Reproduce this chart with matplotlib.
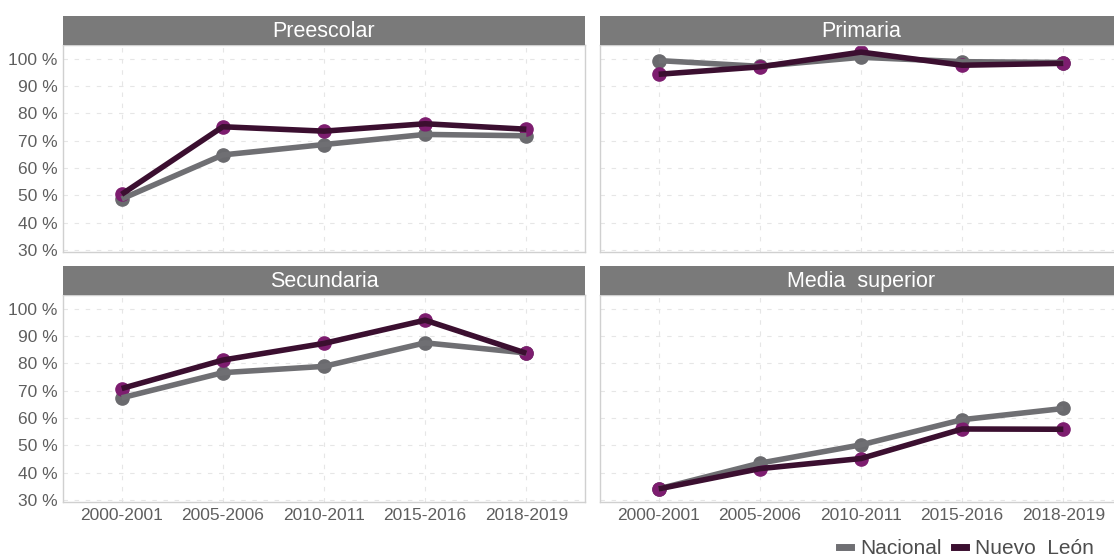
import matplotlib
matplotlib.use("Agg")
import matplotlib.pyplot as plt
from matplotlib.lines import Line2D
from matplotlib.ticker import FuncFormatter

plt.rcParams.update({"font.family": ["Liberation Sans", "DejaVu Sans"]})

# ---------------- data ----------------
ciclos = ["2000-2001", "2005-2006", "2010-2011", "2015-2016", "2018-2019"]
niveles = ["Preescolar", "Primaria", "Secundaria", "Media  superior"]

nacional = {
    "Preescolar":      [48.7, 64.8, 68.6, 72.3, 71.8],
    "Primaria":        [99.3, 97.2, 100.5, 98.9, 98.6],
    "Secundaria":      [67.4, 76.6, 78.9, 87.5, 83.8],
    "Media  superior": [34.1, 43.5, 50.2, 59.4, 63.5],
}
nuevo_leon = {
    "Preescolar":      [50.4, 75.1, 73.5, 76.2, 74.2],
    "Primaria":        [94.3, 97.0, 102.4, 97.6, 98.3],
    "Secundaria":      [70.8, 81.2, 87.3, 95.8, 83.7],
    "Media  superior": [34.1, 41.5, 45.2, 56.0, 55.9],
}
yticks = [30, 40, 50, 60, 70, 80, 90, 100]

# ---------------- layout (pixels) ----------------
W, H = 1114, 558
fig = plt.figure(figsize=(W / 100, H / 100), dpi=100)

pw = 522           # panel width
lefts = [63, 600]
tops = [45, 295]
ph = 207           # panel height
sh = 29            # strip height

c_nac_line, c_nac_pt = "#6f6f73", "#6a6a6e"
c_nl_line, c_nl_pt = "#3b0f30", "#7d1d6f"
tick_col = "#5e5e5e"

x = list(range(len(ciclos)))

for i, nivel in enumerate(niveles):
    r, c = divmod(i, 2)
    l, t = lefts[c], tops[r]
    ax = fig.add_axes([l / W, 1 - (t + ph) / H, pw / W, ph / H])
    ax.set_xlim(-0.58, 4.58)
    ax.set_ylim(29.3, 105.0)
    ax.set_yticks(yticks)
    ax.set_xticks(x)
    ax.yaxis.set_major_formatter(FuncFormatter(lambda v, p: f"{v:.0f} %"))
    ax.grid(True, color="#e6e6e6", ls=(0, (4, 6)), lw=0.8)
    ax.set_axisbelow(True)
    ax.tick_params(length=0, colors=tick_col, labelsize=12.5, pad=4)
    if c == 1:
        ax.set_yticklabels([])
    if r == 0:
        ax.set_xticklabels([])
    else:
        ax.set_xticklabels(ciclos, fontsize=12.5)
    for s in ax.spines.values():
        s.set_color("#d0d0d0")
        s.set_linewidth(1.0)

    ax.plot(x, nacional[nivel], "o", color=c_nac_pt, ms=9.5, zorder=2)
    ax.plot(x, nuevo_leon[nivel], "o", color=c_nl_pt, ms=9.5, zorder=2)
    ax.plot(x, nacional[nivel], "-", color=c_nac_line, lw=4, zorder=3,
            solid_capstyle="butt")
    ax.plot(x, nuevo_leon[nivel], "-", color=c_nl_line, lw=4, zorder=4,
            solid_capstyle="butt")

    # strip
    sa = fig.add_axes([l / W, 1 - t / H, pw / W, sh / H])
    sa.set_facecolor("#7a7a7a")
    sa.set_xticks([]); sa.set_yticks([])
    for s in sa.spines.values():
        s.set_visible(False)
    sa.text(0.5, 0.48, nivel, color="white", fontsize=15.5, ha="center", va="center",
            transform=sa.transAxes)

handles = [Line2D([], [], color=c_nac_line, lw=5),
           Line2D([], [], color=c_nl_line, lw=5)]
fig.legend(handles, ["Nacional", "Nuevo  León"], loc="center right",
           bbox_to_anchor=(1094 / W, 1 - 549 / H), ncol=2, frameon=False,
           fontsize=15, handlelength=0.55, handletextpad=0.45, columnspacing=0.6,
           labelcolor="#4d4d4d", borderpad=0, borderaxespad=0)

fig.savefig("out.png", dpi=100)
